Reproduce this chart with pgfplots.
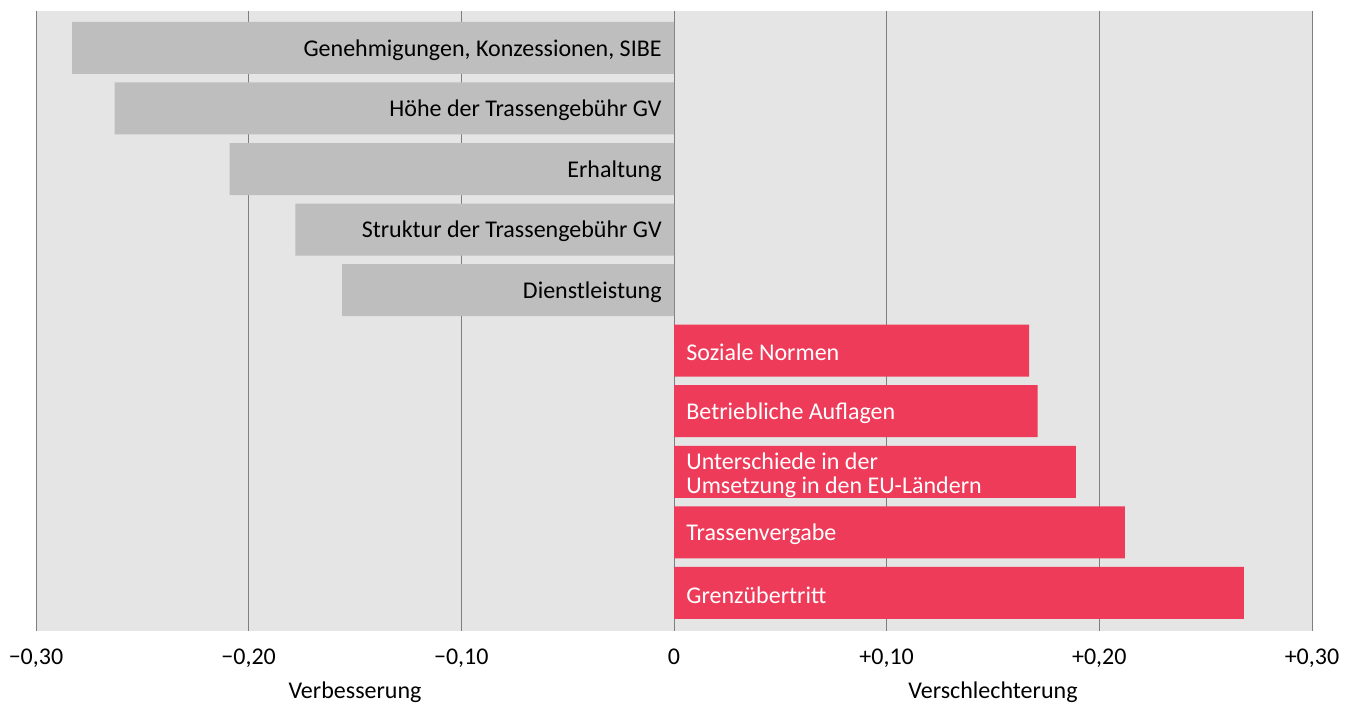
\documentclass[border=0pt]{standalone}
\usepackage{pgfplots}
\pgfplotsset{compat=1.18}
\usepackage{fontspec}
\setmainfont{Carlito}
\definecolor{bargray}{HTML}{BEBEBE}
\definecolor{barred}{HTML}{EE3B5A}
\definecolor{bggray}{HTML}{E5E5E5}
\definecolor{gridgray}{HTML}{7F7F7F}
\begin{document}
\fontsize{12}{14}\selectfont
\begin{tikzpicture}
\useasboundingbox (-18pt,-37.5pt) rectangle (658.5pt,315.5pt);
\begin{axis}[
  at={(0,0)}, anchor=south west,
  scale only axis, width=638pt, height=310pt,
  xmin=-0.3, xmax=0.3, ymin=0.39, ymax=10.63,
  y dir=reverse,
  axis background/.style={fill=bggray},
  axis line style={draw=none},
  xtick={-0.3,-0.2,-0.1,0,0.1,0.2,0.3},
  xticklabels={{−0,30},{−0,20},{−0,10},{0},{+0,10},{+0,20},{+0,30}},
  xticklabel style={font=\fontsize{12}{14}\selectfont, yshift=-5pt},
  major tick length=0pt,
  ytick=\empty,
  xmajorgrids,
  major grid style={gridgray, line width=0.5pt},
  xbar, bar width=26pt, bar shift=0pt,
  clip=false,
]
\addplot[fill=bargray, draw=none] coordinates {(-0.283,1) (-0.263,2) (-0.209,3) (-0.178,4) (-0.156,5)};
\addplot[fill=barred, draw=none] coordinates {(0.167,6) (0.171,7) (0.189,8) (0.212,9) (0.268,10)};
\begin{scope}[every node/.style={yshift=-1pt}]
\node[anchor=east, xshift=-2pt] at (axis cs:0,1) {Genehmigungen, Konzessionen, SIBE};
\node[anchor=east, xshift=-2pt] at (axis cs:0,2) {Höhe der Trassengebühr GV};
\node[anchor=east, xshift=-2pt] at (axis cs:0,3) {Erhaltung};
\node[anchor=east, xshift=-2pt] at (axis cs:0,4) {Struktur der Trassengebühr GV};
\node[anchor=east, xshift=-2pt] at (axis cs:0,5) {Dienstleistung};
\node[anchor=west, xshift=2pt, white] at (axis cs:0,6) {Soziale Normen};
\node[anchor=west, xshift=2pt, white] at (axis cs:0,7) {Betriebliche Auflagen};
\node[anchor=west, xshift=2pt, white, align=left, yshift=-0.8pt] at (axis cs:0,8) {Unterschiede in der\\[-2pt]Umsetzung in den EU-Ländern};
\node[anchor=west, xshift=2pt, white] at (axis cs:0,9) {Trassenvergabe};
\node[anchor=west, xshift=2pt, white] at (axis cs:0,10) {Grenzübertritt};
\end{scope}
\node at (axis description cs:0.25,0) [yshift=-30.5pt] {Verbesserung};
\node at (axis description cs:0.75,0) [yshift=-30.5pt] {Verschlechterung};
\end{axis}
\end{tikzpicture}
\end{document}
